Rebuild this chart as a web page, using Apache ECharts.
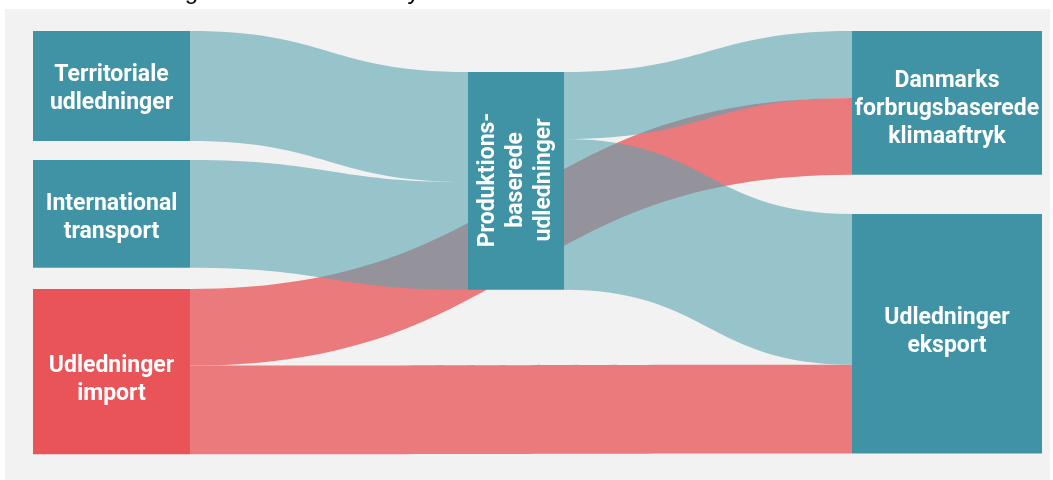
<!DOCTYPE html>
<html>
<head>
<meta charset="utf-8">
<title>Danmarks forbrugsbaserede klimaaftryk</title>
<script src="https://cdn.jsdelivr.net/npm/echarts@6/dist/echarts.min.js"></script>
<style>
  html, body { margin: 0; padding: 0; background: #fff; }
  #panel { position: absolute; left: 5px; top: 9px; width: 1045px; height: 471px; background: #f2f2f2; }
  #chart { position: absolute; left: 0; top: 0; width: 1053px; height: 480px; }
</style>
</head>
<body>
<div id="panel"></div>
<div id="chart"></div>
<script>
// nodes (Mt CO2e)
const nodeNames = [
  "Territoriale udledninger",
  "International transport",
  "Udledninger import",
  "Produktionsbaserede udledninger",
  "Danmarks forbrugsbaserede klimaaftryk",
  "Udledninger eksport",
];
const nodeLabels = [
  "Territoriale\nudledninger",
  "International\ntransport",
  "Udledninger\nimport",
  "Produktions-\nbaserede\nudledninger",
  "Danmarks\nforbrugsbaserede\nklimaaftryk",
  "Udledninger\neksport",
];
const nodeColumns = [0, 0, 0, 1, 2, 2];
const nodeIsImport = [false, false, true, false, false, false];

// links: import first so the teal flows are drawn on top
const linkSources = [
  "Udledninger import",
  "Udledninger import",
  "Territoriale udledninger",
  "International transport",
  "Produktionsbaserede udledninger",
  "Produktionsbaserede udledninger",
];
const linkTargets = [
  "Danmarks forbrugsbaserede klimaaftryk",
  "Udledninger eksport",
  "Produktionsbaserede udledninger",
  "Produktionsbaserede udledninger",
  "Danmarks forbrugsbaserede klimaaftryk",
  "Udledninger eksport",
];
const linkValues = [32, 37, 46, 45, 28, 63];

// layout (px inside the sankey box)
const BOX = { left: 33, top: 31, width: 1009, height: 423 };
const nodeTop = [0, 129, 258, 41, 0, 183];
const labelOffset = [[0, 3], [0, 4], [0, 9], [1, 0], [0, 6], [0, -1]];
const flowColX = [61, 435, 819];   // node x used for link anchors
const wideColX = [0, 435, 819];    // node x for the drawn rectangles
const colWidth = [157, 96, 190];

const TEAL = "#4093a5";
const RED = "#e85457";

const labelBase = {
  show: true,
  position: "inside",
  color: "#fff",
  fontFamily: "Roboto",
  fontWeight: "bold",
  fontSize: 23,
  lineHeight: 28,
};

function buildSeries(col) {
  const nodeWidth = colWidth[col];
  const colX = col === 1 ? flowColX : wideColX;
  const data = nodeNames.map((name, i) => {
    const visible = nodeColumns[i] === col;
    return {
      name,
      localX: colX[nodeColumns[i]] / BOX.width,
      localY: nodeTop[i] / BOX.height,
      itemStyle: {
        color: nodeIsImport[i] ? RED : TEAL,
        opacity: visible ? 1 : 0,
        borderWidth: 0,
      },
      label: visible
        ? Object.assign({}, labelBase, {
            formatter: nodeLabels[i],
            rotate: col === 1 ? 90 : 0,
            offset: labelOffset[i],
          })
        : { show: false },
    };
  });
  const links = linkSources.map((s, i) => {
    const fromImport = s === "Udledninger import";
    return {
      source: s,
      target: linkTargets[i],
      value: linkValues[i],
      lineStyle: col === 1
        ? { color: fromImport ? "#ea7a7b" : "#5aa4b1", opacity: fromImport ? 1 : 0.6 }
        : { opacity: 0 },
    };
  });
  return {
    type: "sankey",
    left: BOX.left,
    top: BOX.top,
    width: BOX.width,
    height: BOX.height,
    nodeWidth,
    nodeGap: 20,
    layoutIterations: 0,
    draggable: false,
    silent: col !== 1,
    emphasis: { disabled: true },
    lineStyle: { curveness: 0.5 },
    data,
    links,
  };
}

const chart = echarts.init(document.getElementById("chart"), null, { renderer: "canvas" });
chart.setOption({
  animation: false,
  title: {
    text: "Danmarks forbrugsbaserede klimaaftryk.",
    left: 6,
    top: -20,
    padding: 0,
    textStyle: { fontFamily: "Liberation Sans", fontWeight: "normal", fontSize: 24, color: "#000" },
  },
  series: [buildSeries(1), buildSeries(0), buildSeries(2)],
});
</script>
</body>
</html>
